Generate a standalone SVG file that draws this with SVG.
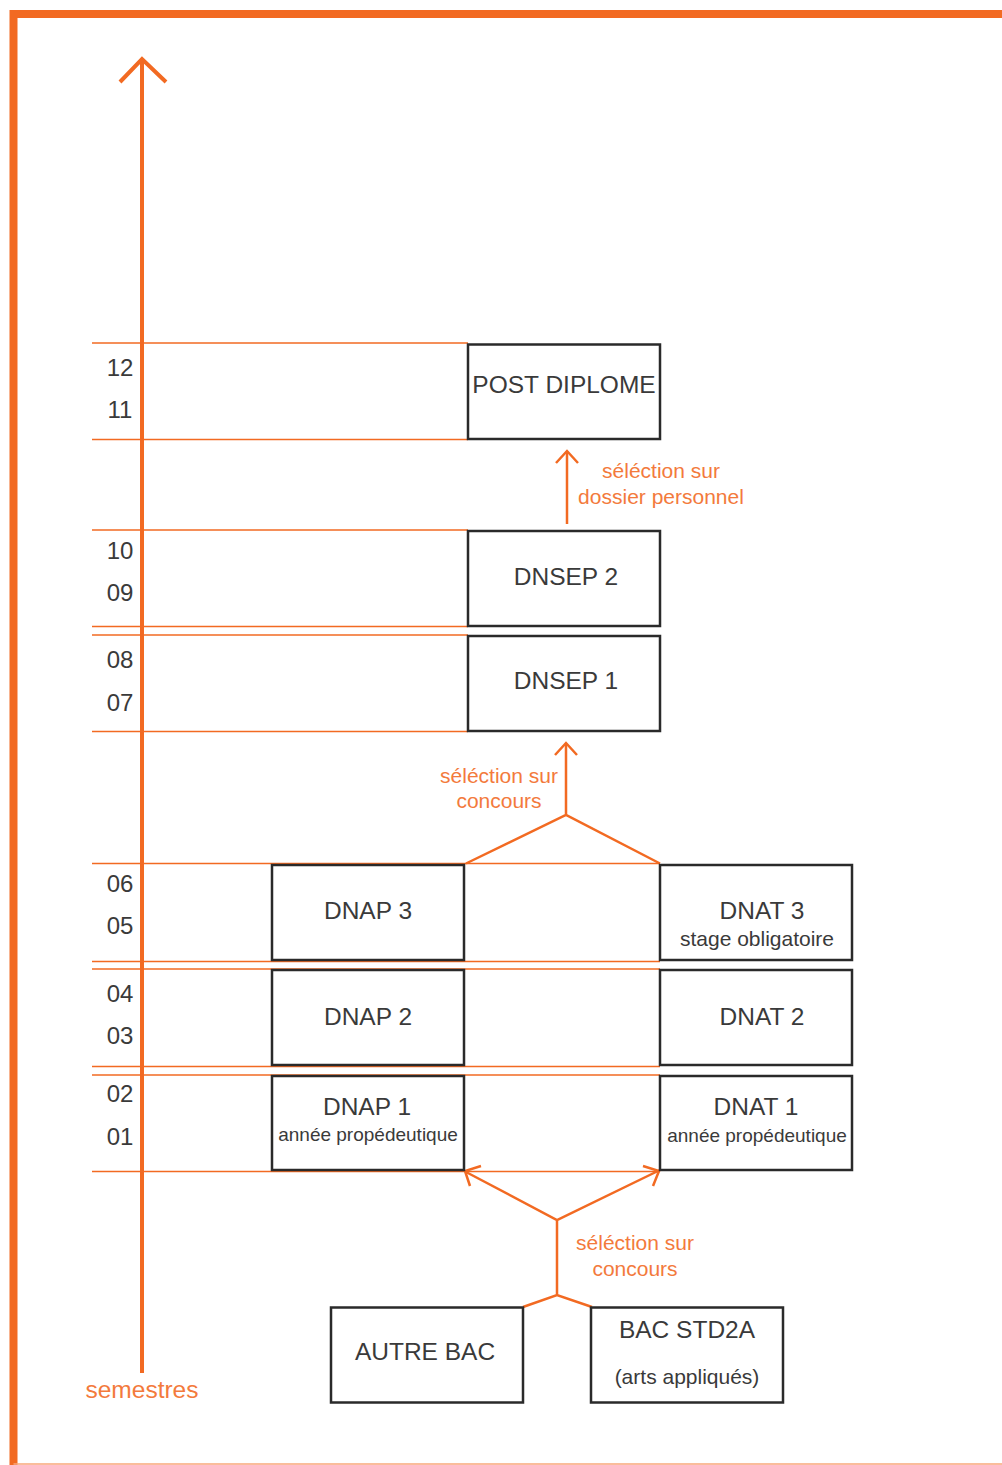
<svg xmlns="http://www.w3.org/2000/svg" width="1002" height="1465" viewBox="0 0 1002 1465">
<style>
.frame{fill:none;stroke:#f26a22;stroke-width:8}
.axis{fill:none;stroke:#f26a22;stroke-width:4;stroke-linecap:butt}
.row{fill:none;stroke:#f26a22;stroke-width:1.5}
.conn{fill:none;stroke:#f26a22;stroke-width:2.5}
.box{fill:#fff;stroke:#2a2a2a;stroke-width:2.5}
.t{font-family:"Liberation Sans",Arial,sans-serif;fill:#3a3a3a;text-anchor:middle}
.big{font-size:24.5px}
.small{font-size:19px}
.mid{font-size:21px}
.num{font-family:"Liberation Sans",Arial,sans-serif;fill:#3a3a3a;font-size:24px;text-anchor:middle}
.lab{font-family:"Liberation Sans",Arial,sans-serif;fill:#f37a3c;font-size:21px;text-anchor:middle}
</style>
<rect width="1002" height="1465" fill="#fff"/>
<g id="frame">
<path class="frame" d="M1002,14 H13.5 V1465"/>
<line x1="13.5" y1="1464" x2="1002" y2="1464" stroke="#f9a77a" stroke-width="1.5"/>
</g>
<g id="axis">
<line class="axis" x1="142" y1="60" x2="142" y2="1373"/>
<path class="axis" d="M120,82 L142,59 L166,82" stroke-linejoin="miter"/>
<text class="lab" x="142" y="1398" style="font-size:24.5px">semestres</text>
</g>
<g id="rows">
<line class="row" x1="92" y1="343" x2="468" y2="343"/>
<line class="row" x1="92" y1="439.5" x2="468" y2="439.5"/>
<line class="row" x1="92" y1="530" x2="468" y2="530"/>
<line class="row" x1="92" y1="626.5" x2="468" y2="626.5"/>
<line class="row" x1="92" y1="635" x2="468" y2="635"/>
<line class="row" x1="92" y1="731.5" x2="468" y2="731.5"/>
<line class="row" x1="92" y1="863.5" x2="660" y2="863.5"/>
<line class="row" x1="92" y1="961.5" x2="660" y2="961.5"/>
<line class="row" x1="92" y1="969" x2="660" y2="969"/>
<line class="row" x1="92" y1="1066.5" x2="660" y2="1066.5"/>
<line class="row" x1="92" y1="1075" x2="660" y2="1075"/>
<line class="row" x1="92" y1="1171.5" x2="660" y2="1171.5"/>
</g>
<g id="semester-numbers">
<text class="num" x="120" y="376">12</text>
<text class="num" x="120" y="418">11</text>
<text class="num" x="120" y="559">10</text>
<text class="num" x="120" y="601">09</text>
<text class="num" x="120" y="668">08</text>
<text class="num" x="120" y="711">07</text>
<text class="num" x="120" y="892">06</text>
<text class="num" x="120" y="934">05</text>
<text class="num" x="120" y="1002">04</text>
<text class="num" x="120" y="1044">03</text>
<text class="num" x="120" y="1102">02</text>
<text class="num" x="120" y="1145">01</text>
</g>
<g id="connectors">
<line class="conn" x1="567" y1="524" x2="567" y2="451"/>
<path class="conn" d="M556,463 L567,451 L578,463"/>
<path class="conn" d="M466,863.5 L566,815 L660,863.5 M566,815 V743"/>
<path class="conn" d="M555,755 L566,743 L577,755"/>
<path class="conn" d="M466,1172 L557,1220 L660,1170 M557,1220 V1295 M523,1307 L557,1295 L592,1307"/>
<path class="conn" d="M481,1166 L465,1171 L470,1186"/>
<path class="conn" d="M643,1166 L659,1171 L653,1186"/>
</g>
<g id="labels">
<text class="lab" x="661" y="478">séléction sur</text>
<text class="lab" x="661" y="504">dossier personnel</text>
<text class="lab" x="499" y="783">séléction sur</text>
<text class="lab" x="499" y="808">concours</text>
<text class="lab" x="635" y="1250">séléction sur</text>
<text class="lab" x="635" y="1276">concours</text>
</g>
<g id="node-post-diplome">
<rect class="box" x="468" y="344.5" width="192" height="94.5"/>
<text class="t big" x="564" y="393">POST DIPLOME</text>
</g>
<g id="node-dnsep2">
<rect class="box" x="468" y="531" width="192" height="95"/>
<text class="t big" x="566" y="585">DNSEP 2</text>
</g>
<g id="node-dnsep1">
<rect class="box" x="468" y="636" width="192" height="95"/>
<text class="t big" x="566" y="689">DNSEP 1</text>
</g>
<g id="node-dnap3">
<rect class="box" x="272" y="865" width="192" height="95"/>
<text class="t big" x="368" y="919">DNAP 3</text>
</g>
<g id="node-dnat3">
<rect class="box" x="660" y="865" width="192" height="95"/>
<text class="t big" x="762" y="919">DNAT 3</text>
<text class="t mid" x="757" y="946">stage obligatoire</text>
</g>
<g id="node-dnap2">
<rect class="box" x="272" y="970" width="192" height="95"/>
<text class="t big" x="368" y="1025">DNAP 2</text>
</g>
<g id="node-dnat2">
<rect class="box" x="660" y="970" width="192" height="95"/>
<text class="t big" x="762" y="1025">DNAT 2</text>
</g>
<g id="node-dnap1">
<rect class="box" x="272" y="1076" width="192" height="94"/>
<text class="t big" x="367" y="1115">DNAP 1</text>
<text class="t small" x="368" y="1141">année propédeutique</text>
</g>
<g id="node-dnat1">
<rect class="box" x="660" y="1076" width="192" height="94"/>
<text class="t big" x="756" y="1115">DNAT 1</text>
<text class="t small" x="757" y="1142">année propédeutique</text>
</g>
<g id="node-autre-bac">
<rect class="box" x="331" y="1307.5" width="192" height="95"/>
<text class="t big" x="425" y="1360">AUTRE BAC</text>
</g>
<g id="node-bac-std2a">
<rect class="box" x="591" y="1307.5" width="192" height="95"/>
<text class="t big" x="687" y="1338">BAC STD2A</text>
<text class="t mid" x="687" y="1384">(arts appliqués)</text>
</g>
</svg>
